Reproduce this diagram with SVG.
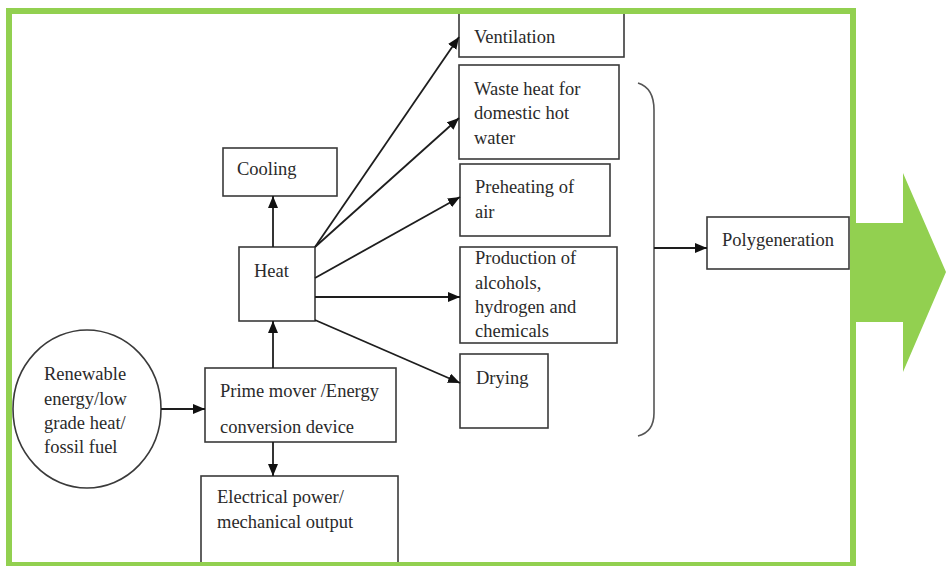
<svg xmlns="http://www.w3.org/2000/svg" width="946" height="566" viewBox="0 0 946 566">
<defs>
<style>
.box{fill:#fff;stroke:#3a3a3a;stroke-width:1.6}
.t{font-family:"Liberation Serif","Times New Roman",serif;font-size:18.5px;fill:#2a2a2a}
.c{stroke:#1e1e1e;stroke-width:1.8;fill:none}
.br{stroke:#555;stroke-width:1.6;fill:none}
</style>
<marker id="ah" markerUnits="userSpaceOnUse" markerWidth="13" markerHeight="11" refX="12" refY="5" orient="auto">
<path d="M0,0 L12,5 L0,10 z" fill="#111"/>
</marker>
</defs>
<rect x="0" y="0" width="946" height="566" fill="#fff"/>

<g id="source">
<ellipse cx="87" cy="409" rx="74" ry="79" class="box"/>
<text class="t" x="44" y="380">Renewable</text>
<text class="t" x="44" y="405">energy/low</text>
<text class="t" x="44" y="429">grade heat/</text>
<text class="t" x="44" y="453">fossil fuel</text>
</g>

<g id="prime">
<rect x="205" y="368" width="191" height="74" class="box"/>
<text class="t" x="220" y="397">Prime mover /Energy</text>
<text class="t" x="220" y="433">conversion device</text>
</g>

<g id="electrical">
<rect x="201" y="476" width="197" height="100" class="box"/>
<text class="t" x="217" y="503">Electrical power/</text>
<text class="t" x="217" y="528">mechanical output</text>
</g>

<g id="heat">
<rect x="239" y="247" width="76" height="74" class="box"/>
<text class="t" x="254" y="277">Heat</text>
</g>

<g id="cooling">
<rect x="223" y="148" width="114" height="48" class="box"/>
<text class="t" x="237" y="175">Cooling</text>
</g>

<g id="ventilation">
<rect x="459" y="12" width="165" height="45" class="box"/>
<text class="t" x="474" y="43">Ventilation</text>
</g>

<g id="waste">
<rect x="459" y="65" width="160" height="94" class="box"/>
<text class="t" x="474" y="95">Waste heat for</text>
<text class="t" x="474" y="119">domestic hot</text>
<text class="t" x="474" y="144">water</text>
</g>

<g id="preheating">
<rect x="460" y="164" width="150" height="72" class="box"/>
<text class="t" x="475" y="193">Preheating of</text>
<text class="t" x="475" y="218">air</text>
</g>

<g id="production">
<rect x="460" y="247" width="157" height="96" class="box"/>
<text class="t" x="475" y="264">Production of</text>
<text class="t" x="475" y="289">alcohols,</text>
<text class="t" x="475" y="313">hydrogen and</text>
<text class="t" x="475" y="337">chemicals</text>
</g>

<g id="drying">
<rect x="460" y="354" width="88" height="74" class="box"/>
<text class="t" x="476" y="384">Drying</text>
</g>

<g id="polygeneration">
<rect x="707" y="217" width="142" height="52" class="box"/>
<text class="t" x="722" y="246">Polygeneration</text>
</g>

<g id="bracket">
<path class="br" d="M638,83 Q654,88 654,110 L654,413 Q654,432 638,436"/>
</g>

<g id="connectors">
<line class="c" x1="273" y1="247" x2="273" y2="196" marker-end="url(#ah)"/>
<line class="c" x1="315" y1="247" x2="459" y2="37" marker-end="url(#ah)"/>
<line class="c" x1="315" y1="247" x2="459" y2="118" marker-end="url(#ah)"/>
<line class="c" x1="315" y1="278" x2="460" y2="197" marker-end="url(#ah)"/>
<line class="c" x1="315" y1="297" x2="460" y2="297" marker-end="url(#ah)"/>
<line class="c" x1="315" y1="320" x2="460" y2="383" marker-end="url(#ah)"/>
<line class="c" x1="161" y1="409" x2="205" y2="409" marker-end="url(#ah)"/>
<line class="c" x1="273" y1="368" x2="273" y2="321" marker-end="url(#ah)"/>
<line class="c" x1="273" y1="442" x2="273" y2="476" marker-end="url(#ah)"/>
<line class="c" x1="654" y1="248" x2="707" y2="248" marker-end="url(#ah)"/>
</g>

<g id="frame">
<rect x="9" y="11" width="844" height="554" fill="none" stroke="#92D050" stroke-width="6"/>
<polygon points="853,223 903,223 903,173 946,272 903,372 903,322 853,322" fill="#92D050"/>
</g>
</svg>
